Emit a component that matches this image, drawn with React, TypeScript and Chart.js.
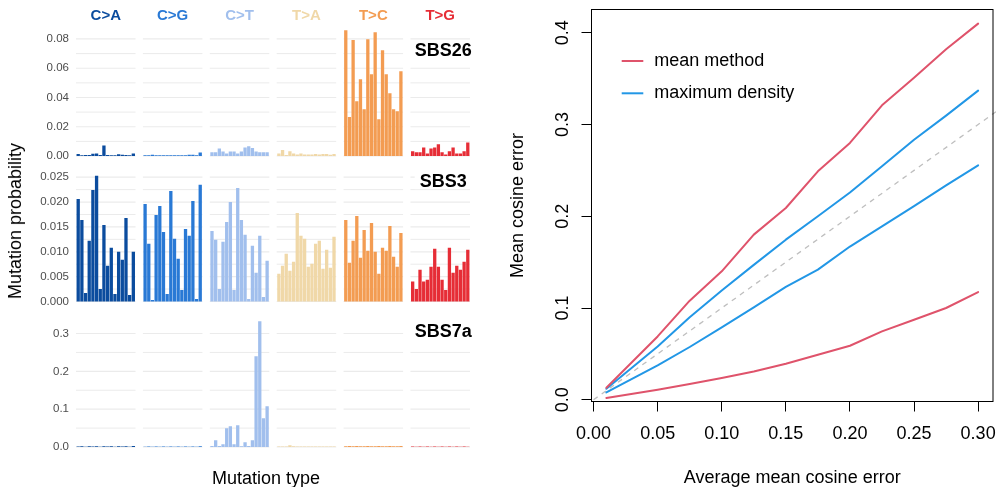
import React, { useEffect, useRef } from "react";
import { Chart, registerables } from "chart.js";

Chart.register(...registerables);

const FONT = '"Liberation Sans", Arial, Helvetica, sans-serif';

// ---------------- Left: signature profiles ----------------
const mutationTypes = ["C>A", "C>G", "C>T", "T>A", "T>C", "T>G"];
const typeColors = ["#0B4C9E", "#2979D5", "#A1BFED", "#F0D8A8", "#F39C52", "#E62D36"];
const signatureNames = ["SBS26", "SBS3", "SBS7a"];

// 96 values each, 16 trinucleotide contexts per mutation type
const sbs26 = [
  0.0014, 0.0006, 0.0007, 0.0007, 0.0016, 0.0018, 0.0007, 0.0072, 0.0007, 0.0006, 0.0006, 0.0012, 0.0009, 0.0007, 0.0005, 0.0017,
  0.0005, 0.0005, 0.0008, 0.0005, 0.0005, 0.0005, 0.0005, 0.0005, 0.0005, 0.0005, 0.0005, 0.0005, 0.0008, 0.0008, 0.0005, 0.0024,
  0.0025, 0.0025, 0.0052, 0.0031, 0.0018, 0.0031, 0.0031, 0.0018, 0.0031, 0.0059, 0.0066, 0.0055, 0.0031, 0.0025, 0.0025, 0.0025,
  0.0018, 0.0041, 0.0007, 0.0032, 0.0018, 0.0011, 0.0018, 0.0011, 0.0011, 0.0011, 0.0014, 0.0011, 0.0014, 0.0014, 0.0009, 0.0014,
  0.0860, 0.0267, 0.0793, 0.0374, 0.0524, 0.0319, 0.0798, 0.0559, 0.0846, 0.0251, 0.0723, 0.0559, 0.0429, 0.0319, 0.0306, 0.0579,
  0.0032, 0.0025, 0.0025, 0.0059, 0.0018, 0.0052, 0.0059, 0.0080, 0.0025, 0.0011, 0.0032, 0.0059, 0.0018, 0.0018, 0.0032, 0.0093,
];
const sbs3 = [
  0.0206, 0.0164, 0.0017, 0.0122, 0.0224, 0.0253, 0.0025, 0.0154, 0.0072, 0.0108, 0.0015, 0.0100, 0.0084, 0.0168, 0.0013, 0.0100,
  0.0196, 0.0116, 0.0003, 0.0174, 0.0192, 0.0140, 0.0015, 0.0222, 0.0126, 0.0086, 0.0023, 0.0146, 0.0132, 0.0202, 0.0005, 0.0235,
  0.0142, 0.0124, 0.0025, 0.0120, 0.0160, 0.0200, 0.0023, 0.0228, 0.0164, 0.0134, 0.0005, 0.0112, 0.0058, 0.0132, 0.0009, 0.0082,
  0.0056, 0.0072, 0.0096, 0.0062, 0.0080, 0.0178, 0.0132, 0.0126, 0.0070, 0.0076, 0.0116, 0.0122, 0.0066, 0.0104, 0.0068, 0.0130,
  0.0164, 0.0078, 0.0122, 0.0172, 0.0088, 0.0144, 0.0102, 0.0158, 0.0100, 0.0056, 0.0108, 0.0102, 0.0152, 0.0090, 0.0070, 0.0138,
  0.0040, 0.0025, 0.0064, 0.0040, 0.0044, 0.0070, 0.0106, 0.0070, 0.0044, 0.0023, 0.0108, 0.0058, 0.0072, 0.0064, 0.0080, 0.0104,
];
const sbs7a = [
  0.0015, 0.0020, 0.0010, 0.0020, 0.0015, 0.0020, 0.0010, 0.0020, 0.0015, 0.0020, 0.0010, 0.0020, 0.0015, 0.0020, 0.0010, 0.0025,
  0.0010, 0.0015, 0.0010, 0.0015, 0.0010, 0.0015, 0.0010, 0.0015, 0.0010, 0.0015, 0.0010, 0.0015, 0.0010, 0.0015, 0.0010, 0.0020,
  0.0026, 0.0176, 0.0026, 0.0071, 0.0494, 0.0547, 0.0071, 0.0573, 0.0018, 0.0123, 0.0026, 0.0176, 0.2400, 0.3325, 0.0758, 0.1076,
  0.0015, 0.0015, 0.0015, 0.0044, 0.0020, 0.0015, 0.0015, 0.0015, 0.0015, 0.0015, 0.0015, 0.0015, 0.0015, 0.0015, 0.0015, 0.0015,
  0.0020, 0.0025, 0.0020, 0.0025, 0.0020, 0.0020, 0.0025, 0.0020, 0.0020, 0.0025, 0.0020, 0.0020, 0.0025, 0.0020, 0.0020, 0.0025,
  0.0015, 0.0010, 0.0015, 0.0010, 0.0015, 0.0010, 0.0015, 0.0010, 0.0015, 0.0010, 0.0015, 0.0010, 0.0015, 0.0010, 0.0015, 0.0010,
];

const sbs26Ticks = [0, 0.02, 0.04, 0.06, 0.08];
const sbs26MinorTicks = [0.01, 0.03, 0.05, 0.07];
const sbs3Ticks = [0, 0.005, 0.01, 0.015, 0.02, 0.025];
const sbs3MinorTicks = [0.0025, 0.0075, 0.0125, 0.0175, 0.0225];
const sbs7aTicks = [0, 0.1, 0.2, 0.3];
const sbs7aMinorTicks = [0.05, 0.15, 0.25];
const signatureLabelY = [0.072, 0.0241, 0.304];

// ---------------- Right: error comparison ----------------
const errorLevels = [0.01, 0.05, 0.075, 0.1, 0.125, 0.15, 0.175, 0.2, 0.225, 0.25, 0.275, 0.3];
const meanMethodUpper = [0.013, 0.069, 0.108, 0.14, 0.18, 0.209, 0.249, 0.28, 0.321, 0.351, 0.382, 0.41];
const meanMethodLower = [0.002, 0.0109, 0.0171, 0.0236, 0.0309, 0.0393, 0.049, 0.0589, 0.0745, 0.0872, 0.1, 0.1174];
const maxDensityUpper = [0.012, 0.058, 0.09, 0.119, 0.147, 0.1745, 0.2, 0.226, 0.2545, 0.2835, 0.3097, 0.337];
const maxDensityLower = [0.008, 0.0374, 0.0575, 0.079, 0.1007, 0.123, 0.1418, 0.167, 0.189, 0.211, 0.2337, 0.2555];
const refLine = [0, 0.33];
const xTicksRight = [0, 0.05, 0.1, 0.15, 0.2, 0.25, 0.3];
const yTicksRight = [0, 0.1, 0.2, 0.3, 0.4];

const RED = "#DF536B";
const BLUE = "#2297E6";

// layout constants
const CONTEXTS = 16;
const STRIDE = 18.2;
const EXPAND = 0.6;
const PANEL_TOPS = [23.9, 169.4, 314.9];
const PANEL_H = 138.4;

function rowGeometry(r: number) {
  const pt = PANEL_TOPS[r];
  const top = r === 0 ? 0 : Math.floor(pt - 12);
  const bottom = Math.ceil(pt + PANEL_H + 10);
  return { top, height: bottom - top, padTop: pt - top, padBottom: bottom - (pt + PANEL_H) };
}

const rowDefs = [
  { values: sbs26, majors: sbs26Ticks, minors: sbs26MinorTicks, decimals: 2 },
  { values: sbs3, majors: sbs3Ticks, minors: sbs3MinorTicks, decimals: 3 },
  { values: sbs7a, majors: sbs7aTicks, minors: sbs7aMinorTicks, decimals: 1 },
];

function makeRowChart(canvas: HTMLCanvasElement, r: number) {
  const def = rowDefs[r];
  const geo = rowGeometry(r);
  const maxV = Math.max(...def.values);
  const points = def.values.map((v, k) => ({ x: Math.floor(k / CONTEXTS) * STRIDE + (k % CONTEXTS) + 1, y: v }));
  const colors = def.values.map((_, k) => typeColors[Math.floor(k / CONTEXTS)]);
  const decor = {
    id: "facetDecor",
    beforeDatasetsDraw(chart: any) {
      const { ctx, scales } = chart;
      const xs = scales.x, ys = scales.y;
      ctx.save();
      ctx.strokeStyle = "#EBEBEB";
      const drawSet = (vals: number[], lw: number) => {
        ctx.lineWidth = lw;
        vals.forEach((v) => {
          const py = ys.getPixelForValue(v);
          for (let p = 0; p < mutationTypes.length; p++) {
            const x0 = xs.getPixelForValue(p * STRIDE + 1 - EXPAND);
            const x1 = xs.getPixelForValue(p * STRIDE + CONTEXTS + EXPAND);
            ctx.beginPath();
            ctx.moveTo(x0, py);
            ctx.lineTo(x1, py);
            ctx.stroke();
          }
        });
      };
      drawSet(def.minors, 1);
      drawSet(def.majors, 1.2);
      ctx.restore();
    },
    afterDraw(chart: any) {
      const { ctx, scales, chartArea } = chart;
      const xs = scales.x, ys = scales.y;
      ctx.save();
      ctx.textAlign = "center";
      ctx.textBaseline = "middle";
      if (r === 0) {
        ctx.font = `bold 15px ${FONT}`;
        mutationTypes.forEach((t, p) => {
          ctx.fillStyle = typeColors[p];
          ctx.fillText(t, xs.getPixelForValue(p * STRIDE + (CONTEXTS + 1) / 2), chartArea.top - 8.2);
        });
      }
      ctx.font = `bold 18px ${FONT}`;
      const label = signatureNames[r];
      const cx = xs.getPixelForValue(5 * STRIDE + 9.3);
      const cy = ys.getPixelForValue(signatureLabelY[r]);
      const w = ctx.measureText(label).width;
      ctx.fillStyle = "#FFFFFF";
      ctx.fillRect(cx - w / 2 - 5, cy - 7.5, w + 10, 15);
      ctx.fillStyle = "#000000";
      ctx.fillText(label, cx, cy);
      ctx.restore();
    },
  };
  return new Chart(canvas, {
    type: "bar",
    data: {
      datasets: [
        {
          data: points,
          backgroundColor: colors,
          borderWidth: 0,
          barPercentage: 0.9,
          categoryPercentage: 1,
        } as any,
      ],
    },
    options: {
      responsive: false,
      animation: false,
      devicePixelRatio: 1,
      layout: { padding: { left: 0, right: 10, top: geo.padTop, bottom: geo.padBottom } },
      plugins: { legend: { display: false }, tooltip: { enabled: false } },
      scales: {
        x: {
          type: "linear",
          display: false,
          offset: false,
          min: 1 - EXPAND,
          max: 5 * STRIDE + CONTEXTS + EXPAND,
          afterFit: (s: any) => { s.paddingLeft = 0; s.paddingRight = 0; s.paddingTop = 0; s.paddingBottom = 0; },
        },
        y: {
          type: "linear",
          min: -0.05 * maxV,
          max: 1.05 * maxV,
          grid: { display: false, drawTicks: true, tickLength: 7 },
          border: { display: false },
          ticks: {
            padding: 0,
            color: "#4D4D4D",
            font: { family: FONT, size: 11.5 },
            callback: (v: any) => Number(v).toFixed(def.decimals),
          },
          afterBuildTicks: (s: any) => { s.ticks = def.majors.map((value) => ({ value })); },
          afterFit: (s: any) => { s.width = 76; s.paddingTop = 0; s.paddingBottom = 0; s.paddingLeft = 0; s.paddingRight = 0; },
        },
      },
    } as any,
    plugins: [decor],
  });
}

function makeRightChart(canvas: HTMLCanvasElement) {
  const toPts = (ys: number[]) => ys.map((y, i) => ({ x: errorLevels[i], y }));
  const legendItems = [
    { label: "mean method", color: RED },
    { label: "maximum density", color: BLUE },
  ];
  const decor = {
    id: "baseDecor",
    afterDraw(chart: any) {
      const { ctx, chartArea, scales } = chart;
      ctx.save();
      // box
      ctx.strokeStyle = "#000";
      ctx.lineWidth = 1;
      ctx.strokeRect(chartArea.left, chartArea.top, chartArea.right - chartArea.left, chartArea.bottom - chartArea.top);
      // rotated y tick labels
      ctx.fillStyle = "#000";
      ctx.font = `18px ${FONT}`;
      ctx.textAlign = "center";
      ctx.textBaseline = "alphabetic";
      yTicksRight.forEach((v) => {
        const py = scales.y.getPixelForValue(v);
        ctx.save();
        ctx.translate(chartArea.left - 24, py);
        ctx.rotate(-Math.PI / 2);
        ctx.fillText(v.toFixed(1), 0, 0);
        ctx.restore();
      });
      // legend
      ctx.textAlign = "left";
      ctx.textBaseline = "middle";
      legendItems.forEach((it, i) => {
        const y = chartArea.top + 51.5 + i * 32.3;
        const x0 = chartArea.left + 30.2;
        ctx.strokeStyle = it.color;
        ctx.lineWidth = 2;
        ctx.beginPath();
        ctx.moveTo(x0, y);
        ctx.lineTo(x0 + 21.6, y);
        ctx.stroke();
        ctx.fillStyle = "#000";
        ctx.fillText(it.label, x0 + 32.6, y);
      });
      ctx.restore();
    },
  };
  const lineDs = (label: string, ys: number[], color: string) => ({
    label,
    data: toPts(ys),
    borderColor: color,
    backgroundColor: color,
    borderWidth: 2,
    pointRadius: 0,
    tension: 0,
    fill: false,
    borderCapStyle: "round",
    borderJoinStyle: "round",
  });
  return new Chart(canvas, {
    type: "line",
    data: {
      datasets: [
        lineDs("mean method", meanMethodUpper, RED),
        lineDs("mean method", meanMethodLower, RED),
        lineDs("maximum density", maxDensityUpper, BLUE),
        lineDs("maximum density", maxDensityLower, BLUE),
        {
          label: "y = x",
          data: refLine.map((v) => ({ x: v, y: v })),
          borderColor: "#BEBEBE",
          borderWidth: 1.3,
          borderDash: [5, 5],
          pointRadius: 0,
          fill: false,
          clip: false,
        },
      ] as any,
    },
    options: {
      responsive: false,
      animation: false,
      devicePixelRatio: 1,
      layout: { padding: { left: 0, right: 3, top: 9.5, bottom: 0 } },
      plugins: { legend: { display: false }, tooltip: { enabled: false } },
      scales: {
        x: {
          type: "linear",
          min: errorLevels[0] - 0.04 * (errorLevels[errorLevels.length - 1] - errorLevels[0]),
          max: errorLevels[errorLevels.length - 1] + 0.04 * (errorLevels[errorLevels.length - 1] - errorLevels[0]),
          grid: { display: true, drawOnChartArea: false, drawTicks: true, tickLength: 10, color: "#000", lineWidth: 1 },
          border: { display: false },
          ticks: {
            color: "#000",
            font: { family: FONT, size: 18 },
            padding: 12,
            maxRotation: 0,
            autoSkip: false,
            callback: (v: any) => Number(v).toFixed(2),
          },
          afterBuildTicks: (s: any) => { s.ticks = xTicksRight.map((value) => ({ value })); },
          afterFit: (s: any) => { s.height = 85.5; s.paddingLeft = 0; s.paddingRight = 0; s.paddingTop = 0; s.paddingBottom = 0; },
          title: {
            display: true,
            text: "Average mean cosine error",
            color: "#000",
            font: { family: FONT, size: 18, lineHeight: 1 },
            padding: { top: 0, bottom: 0 },
          },
        },
        y: {
          type: "linear",
          min: -0.0019,
          max: 0.4254,
          grid: { display: true, drawOnChartArea: false, drawTicks: true, tickLength: 10, color: "#000", lineWidth: 1 },
          border: { display: false },
          ticks: { display: false },
          afterBuildTicks: (s: any) => { s.ticks = yTicksRight.map((value) => ({ value })); },
          afterFit: (s: any) => { s.width = 91.5; s.paddingLeft = 0; s.paddingRight = 0; s.paddingTop = 0; s.paddingBottom = 0; },
          title: {
            display: true,
            text: "Mean cosine error",
            color: "#000",
            font: { family: FONT, size: 18, lineHeight: 1 },
            padding: { top: 8.8, bottom: 0 },
          },
        },
      },
    } as any,
    plugins: [decor],
  });
}

export default function App() {
  const row0 = useRef<HTMLCanvasElement>(null);
  const row1 = useRef<HTMLCanvasElement>(null);
  const row2 = useRef<HTMLCanvasElement>(null);
  const right = useRef<HTMLCanvasElement>(null);

  useEffect(() => {
    document.body.style.margin = "0";
    const charts: Chart[] = [];
    [row0, row1, row2].forEach((ref, r) => {
      if (ref.current) charts.push(makeRowChart(ref.current, r));
    });
    if (right.current) charts.push(makeRightChart(right.current));
    return () => charts.forEach((c) => c.destroy());
  }, []);

  const refs = [row0, row1, row2];
  return (
    <div style={{ position: "absolute", left: 0, top: 0, width: 996, height: 487, background: "#fff", overflow: "hidden", fontFamily: FONT }}>
      {refs.map((ref, r) => {
        const g = rowGeometry(r);
        return (
          <canvas
            key={r}
            ref={ref}
            width={480}
            height={g.height}
            style={{ position: "absolute", left: 0, top: g.top, width: 480, height: g.height }}
          />
        );
      })}
      <canvas ref={right} width={496} height={487} style={{ position: "absolute", left: 500, top: 0, width: 496, height: 487 }} />
      <div
        style={{
          position: "absolute",
          left: 15,
          top: 221,
          transform: "translate(-50%, -50%) rotate(-90deg)",
          fontSize: 18,
          lineHeight: "18px",
          whiteSpace: "nowrap",
          color: "#000",
        }}
      >
        Mutation probability
      </div>
      <div
        style={{
          position: "absolute",
          left: 266,
          top: 478,
          transform: "translate(-50%, -50%)",
          fontSize: 18,
          lineHeight: "18px",
          whiteSpace: "nowrap",
          color: "#000",
        }}
      >
        Mutation type
      </div>
    </div>
  );
}
